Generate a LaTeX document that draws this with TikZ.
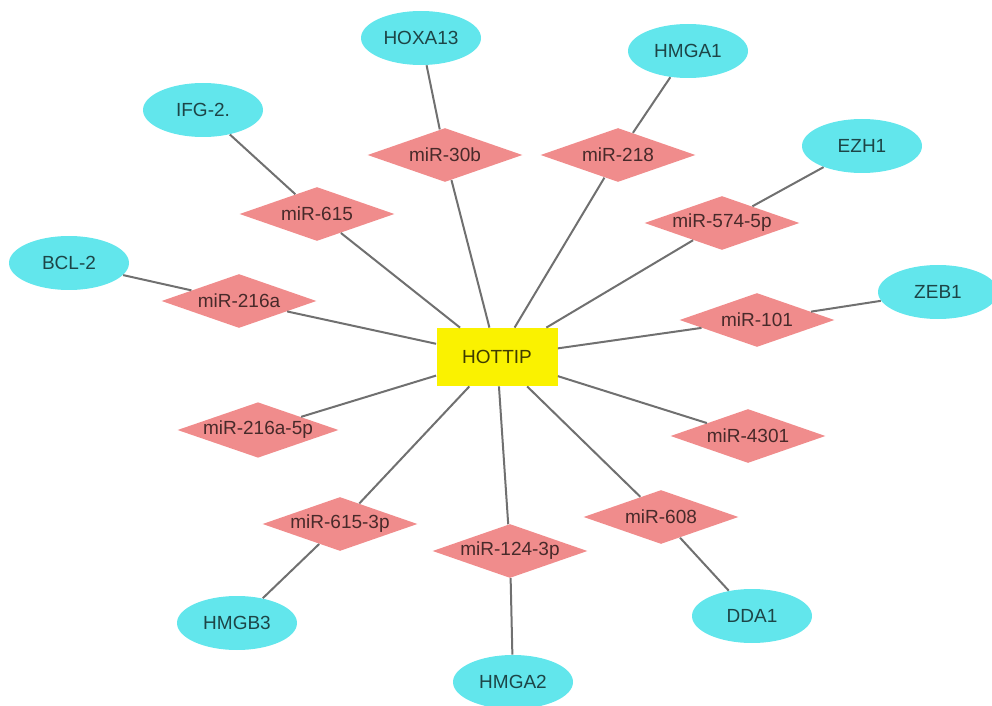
\documentclass[tikz,border=0pt]{standalone}
\usepackage{fontspec}
\setmainfont{Liberation Sans}
\usepackage{xcolor}
\usetikzlibrary{shapes.geometric}
\definecolor{genecyan}{HTML}{62E6EC}
\definecolor{mirpink}{HTML}{F08C8C}
\definecolor{hubyellow}{HTML}{FAF200}
\definecolor{edgegray}{HTML}{707070}
\tikzset{
  gene/.style={ellipse, fill=genecyan, text=genecyan!30!black, font=\fontsize{9.5}{11}\selectfont, minimum width=60pt, minimum height=27pt, inner sep=0pt},
  mirna/.style={diamond, aspect=2.9, fill=mirpink, text=mirpink!30!black, font=\fontsize{9.5}{11}\selectfont, minimum width=77.5pt, minimum height=27pt, inner sep=0pt},
  hub/.style={rectangle, fill=hubyellow, text=hubyellow!25!black, font=\fontsize{9.5}{11}\selectfont, minimum width=60.5pt, minimum height=29pt, inner sep=0pt},
  link/.style={draw=edgegray, line width=1pt}
}
\begin{document}
\begin{tikzpicture}[x=0.5pt,y=-0.5pt]
\useasboundingbox (0,0) rectangle (992,706);

% hub
\node[hub] (hottip) at (497,357) {HOTTIP};

% miRNAs
\node[mirna] (mir30b) at (445,155) {miR-30b};
\node[mirna] (mir218) at (618,155) {miR-218};
\node[mirna] (mir615) at (317,214) {miR-615};
\node[mirna] (mir574) at (722,223) {miR-574-5p};
\node[mirna] (mir216a) at (239,301) {miR-216a};
\node[mirna] (mir101) at (757,320) {miR-101};
\node[mirna] (mir216a5p) at (258,430) {miR-216a-5p};
\node[mirna] (mir4301) at (748,436) {miR-4301};
\node[mirna] (mir6153p) at (340,524) {miR-615-3p};
\node[mirna] (mir124) at (510,551) {miR-124-3p};
\node[mirna] (mir608) at (661,517) {miR-608};

% target genes
\node[gene] (hoxa13) at (421,38) {HOXA13};
\node[gene] (hmga1) at (688,51) {HMGA1};
\node[gene] (ifg2) at (203,110) {IFG-2.};
\node[gene] (ezh1) at (862,146) {EZH1};
\node[gene] (bcl2) at (69,263) {BCL-2};
\node[gene] (zeb1) at (938,292) {ZEB1};
\node[gene] (hmgb3) at (237,623) {HMGB3};
\node[gene] (dda1) at (752,616) {DDA1};
\node[gene] (hmga2) at (513,682) {HMGA2};

% hub to miRNAs
\draw[link] (hottip) -- (mir30b);
\draw[link] (hottip) -- (mir218);
\draw[link] (hottip) -- (mir615);
\draw[link] (hottip) -- (mir574);
\draw[link] (hottip) -- (mir216a);
\draw[link] (hottip) -- (mir101);
\draw[link] (hottip) -- (mir216a5p);
\draw[link] (hottip) -- (mir4301);
\draw[link] (hottip) -- (mir6153p);
\draw[link] (hottip) -- (mir124);
\draw[link] (hottip) -- (mir608);

% miRNAs to genes
\draw[link] (mir30b) -- (hoxa13);
\draw[link] (mir218) -- (hmga1);
\draw[link] (mir615) -- (ifg2);
\draw[link] (mir574) -- (ezh1);
\draw[link] (mir216a) -- (bcl2);
\draw[link] (mir101) -- (zeb1);
\draw[link] (mir6153p) -- (hmgb3);
\draw[link] (mir608) -- (dda1);
\draw[link] (mir124) -- (hmga2);
\end{tikzpicture}
\end{document}
